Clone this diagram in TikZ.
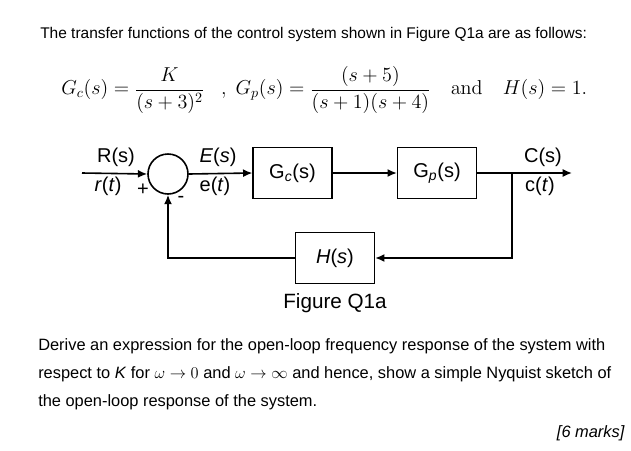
\documentclass[tikz,border=0pt]{standalone}
\usepackage{fix-cm}
\usepackage[no-math]{fontspec}
\setmainfont{Liberation Sans}
\usetikzlibrary{arrows.meta}
\begin{document}
\begin{tikzpicture}[x=0.75pt,y=-0.75pt,
  body/.style={inner sep=0pt,font=\fontsize{11.6}{14}\selectfont},
  qtext/.style={inner sep=0pt,font=\fontsize{12.3}{14}\selectfont},
  lbl/.style={inner sep=0pt,font=\fontsize{15}{18}\selectfont},
  blk/.style={draw,line width=1.2pt,minimum width=59pt,minimum height=38pt,inner sep=0pt,font=\fontsize{15}{18}\selectfont},
  sumc/.style={draw,circle,line width=1.2pt,minimum size=30pt,inner sep=0pt},
  arr/.style={line width=1.2pt,-{Latex[length=7pt,width=6pt]}},
  ln/.style={line width=1.2pt}]
\useasboundingbox (0,0) rectangle (631,450);
% text
\node[body,anchor=base west] (t1) at (40,38) {The transfer functions of the control system shown in Figure Q1a are as follows:};
\node[anchor=west,inner sep=0pt,font=\fontsize{15.1}{19}\selectfont] (eq) at (61,90)
 {$\displaystyle G_c(s)=\frac{K}{(s+3)^2}\;\;\;,\;G_p(s)=\frac{(s+5)}{(s+1)(s+4)}\quad\mathrm{and}\quad H(s)=1.$};
% diagram
\node[sumc] (sum) at (168,174) {};
\node[blk] (gc) at (292.5,173) {G\textsubscript{\textit{c}}(s)};
\node[blk] (gp) at (437,173) {G\textsubscript{\textit{p}}(s)};
\node[blk] (h) at (335,258) {\textit{H}(\textit{s})};
\coordinate (in) at (82,173);
\coordinate (out) at (572,173);
\coordinate (br) at (512,173);
\draw[arr] (in) -- (sum.west);
\draw[arr] (sum.east) -- (gc.west);
\draw[arr] (gc.east) -- (gp.west);
\draw[arr] (gp.east) -- (out);
\draw[arr] (br) |- (h.east);
\draw[arr] (h.west) -| (sum.south);
\node[lbl] (R) at (116,157) {R(s)};
\node[lbl] (r) at (108,186) {\textit{r}(\textit{t})};
\node[lbl] (plus) at (143,190) {+};
\node[lbl] (minus) at (181,199) {-};
\node[lbl] (E) at (218,157) {\textit{E}(\textit{s})};
\node[lbl] (e) at (215,186) {e(\textit{t})};
\node[lbl] (C) at (543,157) {C(s)};
\node[lbl] (c) at (540,186) {c(\textit{t})};
\node[lbl,font=\fontsize{15.5}{18}\selectfont] (fig) at (335,303) {Figure Q1a};
% question
\node[qtext,anchor=base west] (q1) at (38,350) {Derive an expression for the open-loop frequency response of the system with};
\node[qtext,anchor=base west] (q2) at (38,378) {respect to \textit{K} for $\omega\rightarrow 0$ and $\omega\rightarrow\infty$ and hence, show a simple Nyquist sketch of};
\node[qtext,anchor=base west] (q3) at (38,406) {the open-loop response of the system.};
\node[qtext,anchor=base east] (marks) at (625,437) {\textit{[6 marks]}};
\end{tikzpicture}
\end{document}
